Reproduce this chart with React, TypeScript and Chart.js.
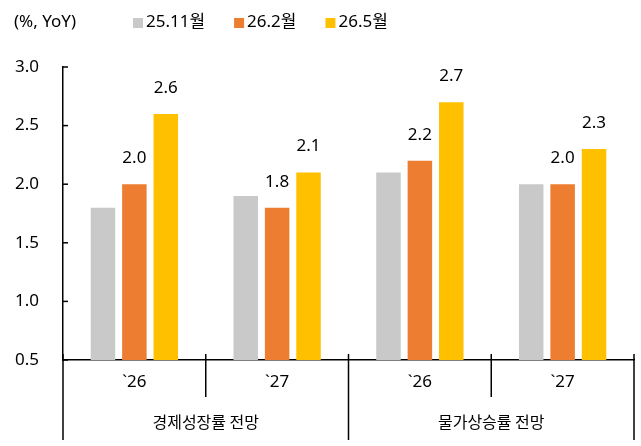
import React, { useEffect, useRef } from "react";
import { Chart, registerables } from "chart.js";

Chart.register(...registerables);

// ---- data ----
const categories = ["`26", "`27", "`26", "`27"];
const groupLabels = ["경제성장률 전망", "물가상승률 전망"];
const seriesNames = ["25.11월", "26.2월", "26.5월"];
const nov25 = [1.8, 1.9, 2.1, 2.0];
const feb26 = [2.0, 1.8, 2.2, 2.0];
const may26 = [2.6, 2.1, 2.7, 2.3];
const showValueLabels = [false, true, true];
const unitLabel = "(%, YoY)";
const yMin = 0.5;
const yMax = 3.0;
const yStep = 0.5;

const COLORS = ["#C9C9C9", "#ED7D31", "#FFC000"];
const FONT = '"Noto Sans", "Noto Sans CJK KR", sans-serif';
const KFONT = '"Noto Sans CJK KR", "Noto Sans", sans-serif';
const TEXT = "#000000";

const overlayPlugin = {
  id: "overlay",
  afterDatasetsDraw(chart: any) {
    const ctx = chart.ctx;
    ctx.save();
    ctx.fillStyle = TEXT;
    ctx.font = `17px ${FONT}`;
    ctx.textAlign = "center";
    ctx.textBaseline = "alphabetic";
    chart.data.datasets.forEach((ds: any, di: number) => {
      if (!showValueLabels[di]) return;
      const meta = chart.getDatasetMeta(di);
      meta.data.forEach((bar: any, i: number) => {
        const v = ds.data[i] as number;
        ctx.fillText(v.toFixed(1), bar.x, bar.y - 21);
      });
    });
    ctx.restore();
  },
  afterDraw(chart: any) {
    const ctx = chart.ctx;
    const { left, right, bottom } = chart.chartArea;
    const xs = chart.scales.x;
    const ys = chart.scales.y;
    ctx.save();
    ctx.strokeStyle = "#000";
    ctx.lineWidth = 1.5;
    const line = (x1: number, y1: number, x2: number, y2: number) => {
      ctx.beginPath();
      ctx.moveTo(x1, y1);
      ctx.lineTo(x2, y2);
      ctx.stroke();
    };
    // inward y tick marks
    ys.ticks.forEach((t: any) => {
      const py = ys.getPixelForValue(t.value);
      line(left, py, left + 5, py);
    });
    // category separators
    const n = categories.length;
    const bounds: number[] = [];
    for (let i = 0; i <= n; i++) {
      let px: number;
      if (i === 0) px = left;
      else if (i === n) px = right;
      else px = (xs.getPixelForValue(i - 1) + xs.getPixelForValue(i)) / 2;
      bounds.push(px);
      const major = i % 2 === 0;
      line(px, bottom - 6, px, major ? bottom + 80 : bottom + 37);
    }
    // group labels
    ctx.fillStyle = TEXT;
    ctx.font = `16px ${KFONT}`;
    ctx.textAlign = "center";
    ctx.textBaseline = "middle";
    groupLabels.forEach((g, gi) => {
      const cx = (bounds[gi * 2] + bounds[gi * 2 + 2]) / 2;
      ctx.fillText(g, cx, bottom + 62);
    });
    // unit label
    ctx.font = `17px ${FONT}`;
    ctx.textAlign = "left";
    ctx.fillText(unitLabel, 14, 22);
    // legend
    let lx = 133;
    chart.data.datasets.forEach((ds: any, di: number) => {
      ctx.fillStyle = COLORS[di];
      ctx.fillRect(lx, 18, 10, 10);
      ctx.fillStyle = TEXT;
      const tx = lx + 13;
      ctx.fillText(ds.label, tx, 22);
      lx = tx + ctx.measureText(ds.label).width + 29;
    });
    ctx.restore();
  },
};

export default function App() {
  const canvasRef = useRef<HTMLCanvasElement | null>(null);

  useEffect(() => {
    document.body.style.margin = "0";
    document.body.style.overflow = "hidden";
    const canvas = canvasRef.current;
    if (!canvas) return;
    Chart.defaults.font.family = FONT;
    const chart = new Chart(canvas, {
      type: "bar",
      data: {
        labels: categories,
        datasets: [nov25, feb26, may26].map((d, i) => ({
          label: seriesNames[i],
          data: d,
          backgroundColor: COLORS[i],
          borderWidth: 0,
          categoryPercentage: 0.66,
          barPercentage: 0.78,
        })),
      },
      options: {
        responsive: false,
        animation: false,
        layout: { padding: { top: 67, right: 7, left: 0, bottom: 0 } },
        plugins: {
          legend: { display: false },
          tooltip: { enabled: false },
        },
        scales: {
          x: {
            grid: { display: false, drawTicks: false },
            border: { display: true, color: "#000", width: 1.5 },
            ticks: {
              color: TEXT,
              font: { size: 17, family: FONT },
              padding: 12,
            },
            afterFit: (s: any) => {
              s.height = 86;
            },
          },
          y: {
            min: yMin,
            max: yMax,
            grid: { display: false, drawTicks: false },
            border: { display: true, color: "#000", width: 1.5 },
            ticks: {
              stepSize: yStep,
              color: TEXT,
              font: { size: 17, family: FONT },
              padding: 24,
              callback: (v: any) => Number(v).toFixed(1),
            },
            afterFit: (s: any) => {
              s.width = 63;
            },
          },
        },
      },
      plugins: [overlayPlugin],
    });
    return () => chart.destroy();
  }, []);

  return (
    <div style={{ width: 641, height: 446 }}>
      <canvas ref={canvasRef} width={641} height={446} />
    </div>
  );
}
